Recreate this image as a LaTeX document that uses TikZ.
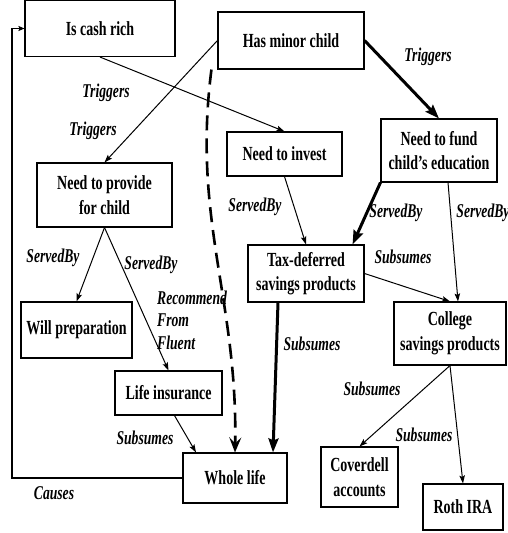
\documentclass[tikz,border=0pt]{standalone}
\usepackage{fontspec}
\setmainfont{Liberation Serif}[FakeStretch=0.7]
\usetikzlibrary{arrows.meta}
\begin{document}
\begin{tikzpicture}[x=1pt,y=-1pt,
  box/.style={draw,line width=1.1pt,inner sep=0pt,align=center,
    font=\bfseries\fontsize{20}{24.5}\selectfont},
  lbl/.style={inner sep=0pt,align=left,font=\bfseries\itshape\fontsize{19.5}{22.5}\selectfont},
  thin/.style={line width=1pt,-{Stealth[length=8pt,width=5.5pt,inset=1.5pt]}},
  thick/.style={line width=3pt,-{Stealth[length=14pt,width=10pt,inset=2pt]}},
  dashline/.style={line width=2.6pt,dash pattern=on 15pt off 8pt,
    -{Stealth[length=15pt,width=12pt,inset=6pt]}}]
\useasboundingbox (0,0) rectangle (508,533);

% nodes
\node[box,minimum width=150pt,minimum height=56pt] (cash) at (100,28.5) {Is cash rich};
\node[box,minimum width=146pt,minimum height=57pt] (minor) at (291,40.5) {Has minor child};
\node[box,minimum width=116pt,minimum height=63pt] (fund) at (439,150.5) {Need to fund\\child's education};
\node[box,minimum width=115pt,minimum height=44pt] (invest) at (284.5,154) {Need to invest};
\node[box,minimum width=135pt,minimum height=64pt] (provide) at (104.5,195) {Need to provide\\for child};
\node[box,minimum width=116pt,minimum height=57pt] (tax) at (306,273.5) {Tax-deferred\\savings products};
\node[box,minimum width=112pt,minimum height=63pt] (college) at (450,333.5) {College\\savings products};
\node[box,minimum width=111pt,minimum height=56pt] (will) at (76.5,330) {Will preparation};
\node[box,minimum width=107pt,minimum height=44pt] (life) at (168.5,393) {Life insurance};
\node[box,minimum width=104pt,minimum height=50pt] (whole) at (235,478) {Whole life};
\node[box,minimum width=77pt,minimum height=60pt] (cover) at (359.5,477) {Coverdell\\accounts};
\node[box,minimum width=80pt,minimum height=46pt] (roth) at (463,507) {Roth IRA};

% connectors
\draw[thin] (cash.south) -- (invest.north);
\draw[thin] (minor.west) -- (provide.north);
\draw[thick] (minor.east) -- (fund.north);
\draw[dashline] ([xshift=-6pt]minor.south west) .. controls (192,220) and (238,300) .. (whole.north);
\draw[thin] (invest.south) -- (tax.north);
\draw[thick] (fund.south west) -- ([xshift=-12pt]tax.north east);
\draw[thin] ([xshift=9pt]fund.south) -- ([xshift=8pt]college.north);
\draw[thin] (tax.east) -- (college.north);
\draw[thick] ([xshift=-28pt]tax.south) -- ([xshift=38pt]whole.north);
\draw[thin] (provide.south) -- (will.north);
\draw[thin] (provide.south) -- (life.north);
\draw[thin] ([xshift=6pt]life.south) -- ([xshift=-39pt]whole.north);
\draw[thin] (college.south) -- (cover.north);
\draw[thin] (college.south) -- (roth.north);
\coordinate (cl) at (12,478);
\draw[line width=1.1pt,-{Stealth[length=6pt,width=5pt,inset=1pt]}] (whole.west) -- (cl) |- (cash.west);

% labels
\node[lbl] (l1) at (106,93) {Triggers};
\node[lbl] (l2) at (93,131) {Triggers};
\node[lbl] (l3) at (428,57) {Triggers};
\node[lbl,anchor=west] (l4) at (157,320) {Recommend\\From\\Fluent};
\node[lbl] (l5) at (255,207) {ServedBy};
\node[lbl] (l6) at (396,213) {ServedBy};
\node[lbl] (l7) at (483,213) {ServedBy};
\node[lbl] (l8) at (403,257) {Subsumes};
\node[lbl] (l9) at (312,344) {Subsumes};
\node[lbl] (l10) at (53,258) {ServedBy};
\node[lbl] (l11) at (151,265) {ServedBy};
\node[lbl] (l12) at (145,438) {Subsumes};
\node[lbl] (l13) at (372,389) {Subsumes};
\node[lbl] (l14) at (424,435) {Subsumes};
\node[lbl] (l15) at (54,493) {Causes};
\end{tikzpicture}
\end{document}
